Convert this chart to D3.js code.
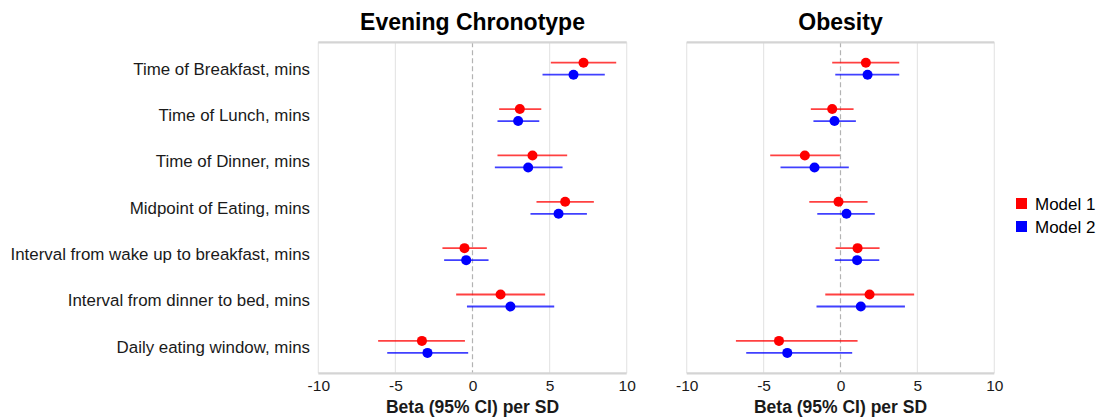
<!DOCTYPE html>
<html>
<head>
<meta charset="utf-8">
<script src="https://d3js.org/d3.v7.min.js"></script>
<style>
  body { margin: 0; background: #fff; }
  text { font-family: "Liberation Sans", Arial, sans-serif; }
</style>
</head>
<body>
<svg id="drawing_region"></svg>
<script>
// data
const categories = [
    'Time of Breakfast, mins',
    'Time of Lunch, mins',
    'Time of Dinner, mins',
    'Midpoint of Eating, mins',
    'Interval from wake up to breakfast, mins',
    'Interval from dinner to bed, mins',
    'Daily eating window, mins'
];
const models = ['Model 1', 'Model 2'];
const modelColors = ['#ff0000', '#0000ff'];
const panels = ['Evening Chronotype', 'Obesity'];
const xTicks = [-10, -5, 0, 5, 10];

// [beta, lower, upper] per category
const chronoModel1 = [[7.2, 5.08, 9.32], [3.07, 1.73, 4.46], [3.89, 1.62, 6.14], [6.01, 4.15, 7.87], [-0.52, -1.95, 0.93], [1.82, -1.06, 4.71], [-3.28, -6.12, -0.49]];
const chronoModel2 = [[6.55, 4.54, 8.58], [2.96, 1.62, 4.33], [3.61, 1.45, 5.84], [5.58, 3.76, 7.42], [-0.41, -1.84, 1.04], [2.46, -0.36, 5.30], [-2.92, -5.53, -0.28]];
const obesityModel1 = [[1.65, -0.54, 3.82], [-0.54, -1.93, 0.85], [-2.32, -4.57, -0.04], [-0.13, -2.03, 1.76], [1.11, -0.32, 2.54], [1.89, -0.99, 4.79], [-4.0, -6.8, 1.11]];
const obesityModel2 = [[1.76, -0.34, 3.82], [-0.39, -1.76, 1.0], [-1.69, -3.9, 0.54], [0.39, -1.51, 2.23], [1.08, -0.37, 2.52], [1.32, -1.56, 4.19], [-3.46, -6.13, 0.76]];

const panelData = [
    [chronoModel1, chronoModel2],
    [obesityModel1, obesityModel2]
];

const width = 1109, height = 417;
const svg = d3.select('#drawing_region')
    .attr('width', width)
    .attr('height', height);

const plotTop = 42.3, plotBottom = 373.3;
const panelX = [[318.3, 626.7], [686.7, 994.3]];

const y = d3.scalePoint()
    .domain(categories)
    .range([plotTop, plotBottom])
    .padding(0.57);

const offset = { 'Model 1': -6, 'Model 2': 6 };

// category labels
svg.append('g')
    .selectAll('text')
    .data(categories)
    .join('text')
    .attr('x', 310)
    .attr('y', d => y(d))
    .attr('dy', '0.35em')
    .attr('text-anchor', 'end')
    .attr('font-size', 16.9)
    .attr('fill', '#1a1a1a')
    .text(d => d);

panels.forEach((title, pi) => {
    const x = d3.scaleLinear()
        .domain([-10, 10])
        .range(panelX[pi]);

    const g = svg.append('g');

    // grid
    g.selectAll('.grid')
        .data(xTicks.filter(t => t !== 0))
        .join('line')
        .attr('x1', d => x(d)).attr('x2', d => x(d))
        .attr('y1', plotTop).attr('y2', plotBottom)
        .attr('stroke', '#e6e6e6')
        .attr('stroke-width', 1.2);

    g.append('line')
        .attr('x1', x(0)).attr('x2', x(0))
        .attr('y1', plotTop).attr('y2', plotBottom)
        .attr('stroke', '#b3b3b3')
        .attr('stroke-width', 1.2)
        .attr('stroke-dasharray', '5,3');

    // top and bottom borders
    [plotTop, plotBottom].forEach(yy => {
        g.append('line')
            .attr('x1', x(-10)).attr('x2', x(10))
            .attr('y1', yy).attr('y2', yy)
            .attr('stroke', '#d4d4d4')
            .attr('stroke-width', 2.2);
    });

    // axis
    const axis = g.append('g')
        .attr('transform', `translate(0,${plotBottom})`)
        .call(d3.axisBottom(x).tickValues(xTicks).tickFormat(d => String(d)).tickSize(0).tickPadding(7));
    axis.select('.domain').remove();
    axis.selectAll('text')
        .attr('font-size', 15.5)
        .attr('fill', '#1a1a1a')
        .style('font-family', '"Liberation Sans", Arial, sans-serif');

    g.append('text')
        .attr('x', x(0))
        .attr('y', 413)
        .attr('text-anchor', 'middle')
        .attr('font-size', 17.5)
        .attr('font-weight', 'bold')
        .attr('fill', '#1a1a1a')
        .text('Beta (95% CI) per SD');

    g.append('text')
        .attr('x', x(0))
        .attr('y', 30)
        .attr('text-anchor', 'middle')
        .attr('font-size', 23)
        .attr('font-weight', 'bold')
        .attr('fill', '#000')
        .text(title);

    // marks
    models.forEach((m, mi) => {
        const rows = panelData[pi][mi].map((v, i) => ({ cat: categories[i], b: v[0], lo: v[1], hi: v[2] }));
        g.selectAll(null)
            .data(rows)
            .join('line')
            .attr('x1', d => x(d.lo)).attr('x2', d => x(d.hi))
            .attr('y1', d => y(d.cat) + offset[m]).attr('y2', d => y(d.cat) + offset[m])
            .attr('stroke', modelColors[mi])
            .attr('stroke-opacity', 0.75)
            .attr('stroke-width', 1.8);
        g.selectAll(null)
            .data(rows)
            .join('circle')
            .attr('cx', d => x(d.b))
            .attr('cy', d => y(d.cat) + offset[m])
            .attr('r', 5)
            .attr('fill', modelColors[mi]);
    });
});

// legend
const legend = svg.append('g')
    .attr('transform', 'translate(1016,198)');
legend.selectAll('rect')
    .data(models)
    .join('rect')
    .attr('x', 0)
    .attr('y', (d, i) => i * 23)
    .attr('width', 11)
    .attr('height', 11)
    .attr('fill', (d, i) => modelColors[i]);
legend.selectAll('text')
    .data(models)
    .join('text')
    .attr('x', 19)
    .attr('y', (d, i) => i * 23 + 6)
    .attr('dy', '0.35em')
    .attr('font-size', 17)
    .attr('fill', '#000')
    .text(d => d);
</script>
</body>
</html>
